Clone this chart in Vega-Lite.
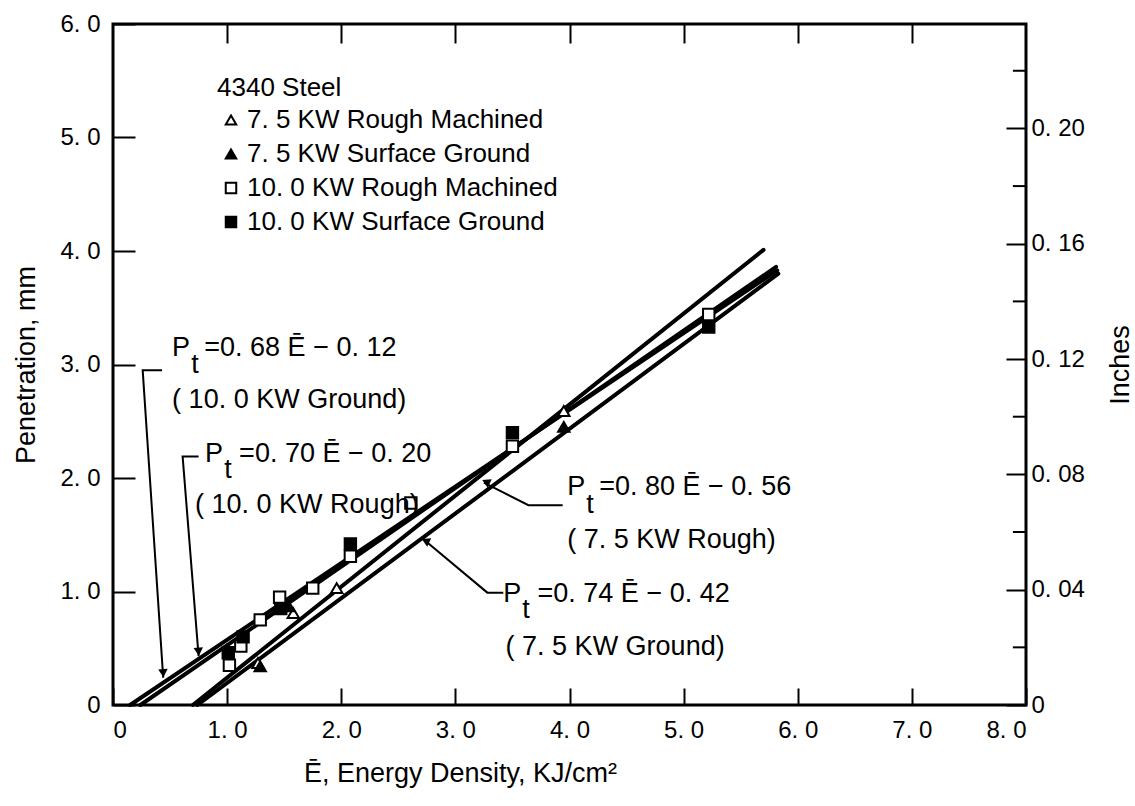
{
  "$schema": "https://vega.github.io/schema/vega-lite/v6.json",
  "width": 913,
  "height": 681,
  "autosize": {"type": "none"},
  "padding": {"left": 113, "top": 24, "right": 109, "bottom": 101},
  "background": "white",
  "config": {
    "font": "Liberation Sans",
    "view": {"stroke": "black", "strokeWidth": 3},
    "axis": {
      "labelFont": "Liberation Sans", "labelFontSize": 24, "labelColor": "black",
      "titleFont": "Liberation Sans", "titleFontSize": 27, "titleColor": "black", "titleFontWeight": "normal",
      "tickColor": "black", "tickWidth": 2, "domain": false, "grid": false
    },
    "legend": {
      "labelFont": "Liberation Sans", "titleFont": "Liberation Sans"
    }
  },
  "datasets": {
    "fits": [
      {"fit": "10G", "E": 0.15, "P": 0}, {"fit": "10G", "E": 5.82, "P": 3.83},
      {"fit": "10R", "E": 0.24, "P": 0}, {"fit": "10R", "E": 5.81, "P": 3.86},
      {"fit": "75R", "E": 0.70, "P": 0}, {"fit": "75R", "E": 5.70, "P": 4.01},
      {"fit": "75G", "E": 0.74, "P": 0}, {"fit": "75G", "E": 5.83, "P": 3.80}
    ],
    "points": [
      {"series": "7. 5 KW Rough Machined", "E": 1.27, "P": 0.37},
      {"series": "7. 5 KW Rough Machined", "E": 1.58, "P": 0.81},
      {"series": "7. 5 KW Rough Machined", "E": 1.96, "P": 1.03},
      {"series": "7. 5 KW Rough Machined", "E": 3.95, "P": 2.59},
      {"series": "7. 5 KW Surface Ground", "E": 1.29, "P": 0.34},
      {"series": "7. 5 KW Surface Ground", "E": 1.54, "P": 0.87},
      {"series": "7. 5 KW Surface Ground", "E": 3.95, "P": 2.45},
      {"series": "10. 0 KW Rough Machined", "E": 1.02, "P": 0.35},
      {"series": "10. 0 KW Rough Machined", "E": 1.12, "P": 0.52},
      {"series": "10. 0 KW Rough Machined", "E": 1.29, "P": 0.75},
      {"series": "10. 0 KW Rough Machined", "E": 1.46, "P": 0.95},
      {"series": "10. 0 KW Rough Machined", "E": 1.75, "P": 1.03},
      {"series": "10. 0 KW Rough Machined", "E": 2.08, "P": 1.31},
      {"series": "10. 0 KW Rough Machined", "E": 2.61, "P": 1.78},
      {"series": "10. 0 KW Rough Machined", "E": 3.50, "P": 2.28},
      {"series": "10. 0 KW Rough Machined", "E": 5.22, "P": 3.44},
      {"series": "10. 0 KW Surface Ground", "E": 1.01, "P": 0.46},
      {"series": "10. 0 KW Surface Ground", "E": 1.14, "P": 0.60},
      {"series": "10. 0 KW Surface Ground", "E": 1.47, "P": 0.85},
      {"series": "10. 0 KW Surface Ground", "E": 2.08, "P": 1.42},
      {"series": "10. 0 KW Surface Ground", "E": 3.50, "P": 2.40},
      {"series": "10. 0 KW Surface Ground", "E": 5.22, "P": 3.33}
    ],
    "leaders": [
      {"leader": "g10", "i": 0, "E": 0.43, "P": 2.95}, {"leader": "g10", "i": 1, "E": 0.26, "P": 2.95}, {"leader": "g10", "i": 2, "E": 0.44, "P": 0.24},
      {"leader": "r10", "i": 0, "E": 0.75, "P": 2.19}, {"leader": "r10", "i": 1, "E": 0.61, "P": 2.19}, {"leader": "r10", "i": 2, "E": 0.75, "P": 0.43},
      {"leader": "r75", "i": 0, "E": 3.94, "P": 1.76}, {"leader": "r75", "i": 1, "E": 3.64, "P": 1.76}, {"leader": "r75", "i": 2, "E": 3.25, "P": 1.96},
      {"leader": "g75", "i": 0, "E": 3.42, "P": 0.99}, {"leader": "g75", "i": 1, "E": 3.28, "P": 0.99}, {"leader": "g75", "i": 2, "E": 2.72, "P": 1.46}
    ],
    "arrows": [
      {"leader": "g10", "E": 0.44, "P": 0.28},
      {"leader": "r10", "E": 0.75, "P": 0.47},
      {"leader": "r75", "E": 3.28, "P": 1.95},
      {"leader": "g75", "E": 2.75, "P": 1.43}
    ],
    "labels": [
      {"E": 0.518, "P": 3.075, "txt": "P"},
      {"E": 0.685, "P": 2.925, "txt": "t"},
      {"E": 0.80, "P": 3.075, "txt": "=0. 68 Ē − 0. 12"},
      {"E": 0.518, "P": 2.617, "txt": "( 10. 0 KW Ground)"},
      {"E": 0.807, "P": 2.141, "txt": "P"},
      {"E": 0.974, "P": 2.0, "txt": "t"},
      {"E": 1.105, "P": 2.141, "txt": "=0. 70 Ē − 0. 20"},
      {"E": 0.719, "P": 1.69, "txt": "( 10. 0 KW Rough)"},
      {"E": 3.98, "P": 1.85, "txt": "P"},
      {"E": 4.147, "P": 1.69, "txt": "t"},
      {"E": 4.26, "P": 1.85, "txt": "=0. 80 Ē − 0. 56"},
      {"E": 3.98, "P": 1.383, "txt": "( 7. 5 KW Rough)"},
      {"E": 3.42, "P": 0.907, "txt": "P"},
      {"E": 3.587, "P": 0.767, "txt": "t"},
      {"E": 3.72, "P": 0.907, "txt": "=0. 74 Ē − 0. 42"},
      {"E": 3.44, "P": 0.44, "txt": "( 7. 5 KW Ground)"}
    ],
    "inch": [{"in": 0}, {"in": 0.23622}],
    "minor": [{"in": 0.02}, {"in": 0.06}, {"in": 0.10}, {"in": 0.14}, {"in": 0.18}, {"in": 0.22}]
  },
  "resolve": {"scale": {"x": "independent", "y": "independent"}, "axis": {"x": "independent", "y": "independent"}},
  "layer": [
    {
      "data": {"name": "fits"},
      "mark": {"type": "line", "color": "black", "strokeWidth": 4, "strokeCap": "round"},
      "encoding": {
        "x": {"field": "E", "type": "quantitative", "scale": {"domain": [0, 8], "nice": false},
          "axis": {"orient": "bottom", "values": [0, 1, 2, 3, 4, 5, 6, 7, 8], "tickSize": -17, "labelPadding": 30,
            "labelExpr": "datum.value == 0 ? '0' : replace(format(datum.value, '.1f'), '.', '. ')",
            "title": "Ē, Energy Density, KJ/cm²", "titleX": 347, "titlePadding": 18}},
        "y": {"field": "P", "type": "quantitative", "scale": {"domain": [0, 6], "nice": false},
          "axis": {"orient": "left", "values": [0, 1, 2, 3, 4, 5, 6], "tickSize": -22, "labelPadding": 35,
            "labelExpr": "datum.value == 0 ? '0' : replace(format(datum.value, '.1f'), '.', '. ')",
            "title": "Penetration, mm", "titlePadding": 19}},
        "detail": {"field": "fit"}
      }
    },
    {
      "data": {"name": "points"},
      "mark": {"type": "point", "strokeWidth": 2, "size": 130, "opacity": 1},
      "encoding": {
        "x": {"field": "E", "type": "quantitative", "scale": {"domain": [0, 8], "nice": false},
          "axis": {"orient": "top", "values": [1, 2, 3, 4, 5, 6, 7], "tickSize": -19, "labels": false, "title": null}},
        "y": {"field": "P", "type": "quantitative", "scale": {"domain": [0, 6], "nice": false}, "axis": null},
        "shape": {"field": "series", "type": "nominal",
          "scale": {"domain": ["7. 5 KW Rough Machined", "7. 5 KW Surface Ground", "10. 0 KW Rough Machined", "10. 0 KW Surface Ground"],
            "range": ["triangle-up", "triangle-up", "square", "square"]},
          "legend": {"title": "4340 Steel", "orient": "none", "legendX": 104, "legendY": 51,
            "titleFontSize": 26, "titleFontWeight": "normal", "titleColor": "black", "titlePadding": 6,
            "labelFontSize": 26, "labelColor": "black", "symbolSize": 110, "symbolStrokeWidth": 2,
            "rowPadding": 8, "symbolOffset": 1, "labelOffset": 3, "labelLimit": 500}},
        "fill": {"field": "series", "type": "nominal",
          "scale": {"domain": ["7. 5 KW Rough Machined", "7. 5 KW Surface Ground", "10. 0 KW Rough Machined", "10. 0 KW Surface Ground"],
            "range": ["white", "black", "white", "black"]},
          "legend": {"title": "4340 Steel", "orient": "none", "legendX": 104, "legendY": 51,
            "titleFontSize": 26, "titleFontWeight": "normal", "titleColor": "black", "titlePadding": 6,
            "labelFontSize": 26, "labelColor": "black", "symbolSize": 110, "symbolStrokeWidth": 2,
            "rowPadding": 8, "symbolOffset": 1, "labelOffset": 3, "labelLimit": 500}},
        "stroke": {"field": "series", "type": "nominal",
          "scale": {"domain": ["7. 5 KW Rough Machined", "7. 5 KW Surface Ground", "10. 0 KW Rough Machined", "10. 0 KW Surface Ground"],
            "range": ["black", "black", "black", "black"]},
          "legend": {"title": "4340 Steel", "orient": "none", "legendX": 104, "legendY": 51,
            "titleFontSize": 26, "titleFontWeight": "normal", "titleColor": "black", "titlePadding": 6,
            "labelFontSize": 26, "labelColor": "black", "symbolSize": 110, "symbolStrokeWidth": 2,
            "rowPadding": 8, "symbolOffset": 1, "labelOffset": 3, "labelLimit": 500}}
      }
    },
    {
      "data": {"name": "leaders"},
      "mark": {"type": "line", "color": "black", "strokeWidth": 2},
      "encoding": {
        "x": {"field": "E", "type": "quantitative", "scale": {"domain": [0, 8], "nice": false}, "axis": null},
        "y": {"field": "P", "type": "quantitative", "scale": {"domain": [0, 6], "nice": false}, "axis": null},
        "detail": {"field": "leader"},
        "order": {"field": "i", "type": "quantitative"}
      }
    },
    {
      "data": {"name": "arrows"},
      "mark": {"type": "point", "shape": "triangle-up", "filled": true, "color": "black", "size": 90, "opacity": 1},
      "encoding": {
        "x": {"field": "E", "type": "quantitative", "scale": {"domain": [0, 8], "nice": false}, "axis": null},
        "y": {"field": "P", "type": "quantitative", "scale": {"domain": [0, 6], "nice": false}, "axis": null},
        "angle": {"field": "leader", "type": "nominal", "scale": {"domain": ["g10", "r10", "r75", "g75"], "range": [176, 175, 296, 312]}, "legend": null}
      }
    },
    {
      "data": {"name": "labels"},
      "mark": {"type": "text", "align": "left", "baseline": "alphabetic", "fontSize": 27, "color": "black"},
      "encoding": {
        "x": {"field": "E", "type": "quantitative", "scale": {"domain": [0, 8], "nice": false}, "axis": null},
        "y": {"field": "P", "type": "quantitative", "scale": {"domain": [0, 6], "nice": false}, "axis": null},
        "text": {"field": "txt"}
      }
    },
    {
      "data": {"name": "minor"},
      "mark": {"type": "rule", "color": "black", "strokeWidth": 2},
      "encoding": {
        "x": {"datum": 7.885, "type": "quantitative", "scale": {"domain": [0, 8], "nice": false}, "axis": null},
        "x2": {"datum": 8},
        "y": {"field": "in", "type": "quantitative", "scale": {"domain": [0, 0.23622], "nice": false, "zero": true}, "axis": null}
      }
    },
    {
      "data": {"name": "inch"},
      "mark": {"type": "point", "opacity": 0},
      "encoding": {
        "y": {"field": "in", "type": "quantitative", "scale": {"domain": [0, 0.23622], "nice": false, "zero": true},
          "axis": {"orient": "right", "values": [0, 0.04, 0.08, 0.12, 0.16, 0.2],
            "tickSize": -20,
            "labelPadding": 25,
            "labelExpr": "datum.value == 0 ? '0' : replace(format(datum.value, '.2f'), '.', '. ')",
            "title": "Inches", "titleAngle": -90, "titlePadding": 50}}
      }
    }
  ]
}
